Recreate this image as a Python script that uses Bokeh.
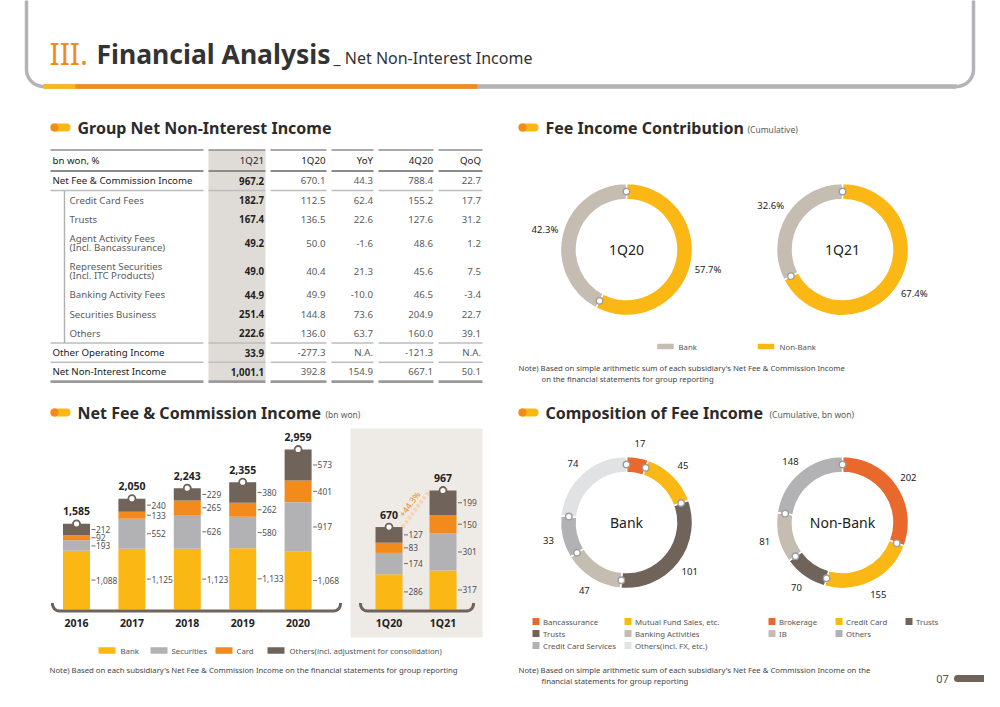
import math
import numpy as np
from bokeh.plotting import figure
from bokeh.models import Range1d
from bokeh.core.properties import value
from bokeh.embed import file_html
from bokeh.resources import INLINE

# ----------------------------- data -----------------------------
years = ["2016", "2017", "2018", "2019", "2020"]
annual_bank = [1088, 1125, 1123, 1133, 1068]
annual_securities = [193, 552, 626, 580, 917]
annual_card = [92, 133, 265, 262, 401]
annual_others = [212, 240, 229, 380, 573]

quarters = ["1Q20", "1Q21"]
quarter_bank = [286, 317]
quarter_securities = [174, 301]
quarter_card = [83, 150]
quarter_others = [127, 199]

bar_series = ["Bank", "Securities", "Card", "Others(incl. adjustment for consolidation)"]

contrib_periods = ["1Q20", "1Q21"]
contrib_bank = [42.3, 32.6]
contrib_nonbank = [57.7, 67.4]
contrib_series = ["Bank", "Non-Bank"]

bank_comp_labels = ["Bancassurance", "Mutual Fund Sales, etc.", "Trusts",
                    "Banking Activities", "Credit Card Services", "Others(incl. FX, etc.)"]
bank_comp_values = [17, 45, 101, 47, 33, 74]
nonbank_comp_labels = ["Brokerage", "Credit Card", "Trusts", "IB", "Others"]
nonbank_comp_values = [202, 155, 70, 81, 148]

table_header = ["bn won, %", "1Q21", "1Q20", "YoY", "4Q20", "QoQ"]
table_labels = [["Net Fee & Commission Income"], ["Credit Card Fees"], ["Trusts"],
                ["Agent Activity Fees", "(Incl. Bancassurance)"],
                ["Represent Securities", "(Incl. ITC Products)"],
                ["Banking Activity Fees"], ["Securities Business"], ["Others"],
                ["Other Operating Income"], ["Net Non-Interest Income"]]
table_level = [0, 1, 1, 1, 1, 1, 1, 1, 0, 0]
col_1q21 = [967.2, 182.7, 167.4, 49.2, 49.0, 44.9, 251.4, 222.6, 33.9, 1001.1]
col_1q20 = [670.1, 112.5, 136.5, 50.0, 40.4, 49.9, 144.8, 136.0, -277.3, 392.8]
col_yoy = [44.3, 62.4, 22.6, -1.6, 21.3, -10.0, 73.6, 63.7, None, 154.9]
col_4q20 = [788.4, 155.2, 127.6, 48.6, 45.6, 46.5, 204.9, 160.0, -121.3, 667.1]
col_qoq = [22.7, 17.7, 31.2, 1.2, 7.5, -3.4, 22.7, 39.1, None, 50.1]

# ----------------------------- style -----------------------------
YELLOW = "#fbb714"
ORANGE = "#f28a1c"
REDOR = "#e9692c"
DARK = "#6f635a"
GRAY = "#b2b2b4"
BEIGE = "#c6bdb2"
LIGHT = "#e1e2e4"
TXT = "#333333"
SUB = "#5a5a5a"
FONT = value("Noto Sans")

W, H = 984, 691
p = figure(width=W, height=H, x_range=Range1d(0, W), y_range=Range1d(0, H),
           output_backend="svg", toolbar_location=None, min_border=0,
           x_axis_location=None, y_axis_location=None)
p.grid.visible = False
p.outline_line_color = None
p.background_fill_color = "white"
p.border_fill_color = "white"


def Y(y):
    return H - y


def txt(x, y, s, size, color=TXT, bold=False, align="left", baseline="middle",
        angle=0.0, rng=None, flip=True):
    xs = x if isinstance(x, (list, tuple, np.ndarray)) else [x]
    ys = y if isinstance(y, (list, tuple, np.ndarray)) else [y]
    ss = s if isinstance(s, (list, tuple)) else [s]
    if flip:
        ys = [Y(v) for v in ys]
    kw = {}
    if rng:
        kw["y_range_name"] = rng
    p.text(x=list(xs), y=list(ys), text=list(ss), text_font=FONT,
           text_font_size=f"{size}px", text_color=color,
           text_font_style="bold" if bold else "normal",
           text_align=align, text_baseline=baseline, angle=angle, **kw)


# ----------------------------- header frame -----------------------------
r = 17
L, R, B = 26, 973, 86
pts_x, pts_y = [L], [Y(-20)]
for a in np.linspace(math.pi, 1.5 * math.pi, 12):
    pts_x.append(L + r + r * math.cos(a)); pts_y.append(Y(B - r) + r * math.sin(a))
for a in np.linspace(-0.5 * math.pi, 0, 12):
    pts_x.append(R - r + r * math.cos(a)); pts_y.append(Y(B - r) + r * math.sin(a))
pts_x.append(R); pts_y.append(Y(-20))
p.line(pts_x, pts_y, line_color="#b4b4b8", line_width=3.5)
p.line([L + r, R - r], [Y(B), Y(B)], line_color="#b4b4b8", line_width=4.5)
p.line([L + r, 75], [Y(B), Y(B)], line_color=YELLOW, line_width=4.5)
p.line([75, 477], [Y(B), Y(B)], line_color=ORANGE, line_width=4.5)

txt(49, 53, "III.", 30, color=ORANGE)
txt(96, 53, "Financial Analysis", 26.5, color="#333333", bold=True)
txt(333, 57.5, "_ Net Non-Interest Income", 16, color="#333333")


# ----------------------------- section headers -----------------------------
def section(x, y, title, sub, sub_x):
    p.line([x + 4, x + 16], [Y(y), Y(y)], line_color=YELLOW, line_width=8, line_cap="round")
    p.scatter([x + 4], [Y(y)], size=8, fill_color=ORANGE, line_color=None)
    txt(x + 27, y, title, 16, color="#2b2b2b", bold=True)
    if sub:
        txt(sub_x, y + 1.5, sub, 8.5, color=SUB)


section(50, 127, "Group Net Non-Interest Income", None, 0)
section(518, 127, "Fee Income Contribution", "(Cumulative)", 747)
section(50, 412, "Net Fee & Commission Income", "(bn won)", 325)
section(518, 412, "Composition of Fee Income", "(Cumulative, bn won)", 769)

# ----------------------------- table -----------------------------
label_seg = (50, 203)
col_seg = [(208, 265), (270, 326), (331, 373), (378, 433), (438, 482)]
col_right = [263.5, 325, 372.5, 432.5, 480.5]
t_top = 149.5
header_y = 160
row_h = [19.5, 19.3, 19.3, 28, 28, 19.3, 19.3, 19.3, 19.3, 19.3]
bounds = [170.5]
for h in row_h:
    bounds.append(bounds[-1] + h)
centers = [(bounds[i] + bounds[i + 1]) / 2 for i in range(len(row_h))]

p.quad(left=col_seg[0][0], right=col_seg[0][1], top=Y(t_top), bottom=Y(bounds[-1]),
       fill_color="#dfdcd7", line_color=None)


def rule(y, lw, color):
    segs = [label_seg] + col_seg
    p.segment(x0=[s[0] for s in segs], x1=[s[1] for s in segs],
              y0=[Y(y)] * len(segs), y1=[Y(y)] * len(segs), line_color=color, line_width=lw)


rule(t_top, 1.6, "#8c8c8c")
rule(bounds[0], 2.2, "#8c8c8c")
rule(bounds[1], 1.6, "#bdbdbd")
rule(bounds[8], 1.6, "#bdbdbd")
rule(bounds[9], 1.6, "#bdbdbd")
rule(bounds[10], 2.6, "#9a9a9a")
p.segment(x0=[64], x1=[64], y0=[Y(bounds[1])], y1=[Y(bounds[8])], line_color="#b0b0b0", line_width=1.4)

TS = 9.7
txt(52, header_y, table_header[0], TS, color="#222222")
txt(col_right, [header_y] * 5, table_header[1:], TS, color="#222222", align="right")


def fmt(v):
    return "N.A." if v is None else f"{v:,.1f}"


for i, lab in enumerate(table_labels):
    x0 = 52 if table_level[i] == 0 else 69
    color = "#222222" if table_level[i] == 0 else "#5c5c5c"
    if len(lab) == 1:
        txt(x0, centers[i], lab[0], TS, color=color)
    else:
        txt([x0, x0], [centers[i] - 4.8, centers[i] + 4.8], lab, TS, color=color)

cols = [col_1q21, col_1q20, col_yoy, col_4q20, col_qoq]
for j, col in enumerate(cols):
    txt([col_right[j]] * len(col), centers, [fmt(v) for v in col], TS,
        color="#222222" if j == 0 else "#5c5c5c", bold=(j == 0), align="right")

# ----------------------------- bar charts -----------------------------
base = 609  # baseline (reference pixel row)
k_annual = 160 / 2959.0   # px per bn won
k_quarter = 119 / 967.0
frame_bottom, frame_top = 0, H
yb = Y(base)
p.extra_y_ranges = {
    "annual": Range1d(-(yb - frame_bottom) / k_annual, (frame_top - yb) / k_annual),
    "quarter": Range1d(-(yb - frame_bottom) / k_quarter, (frame_top - yb) / k_quarter),
}

series_colors = [YELLOW, GRAY, ORANGE, DARK]

# quarter background panel
p.quad(left=350, right=482, top=Y(428), bottom=Y(637), fill_color="#eeeae5", line_color=None)


def bracket(x0, x1, y):
    rr = 7
    bx, by = [x0], [Y(y - 8)]
    for a in np.linspace(math.pi, 1.5 * math.pi, 8):
        bx.append(x0 + rr + rr * math.cos(a)); by.append(Y(y - rr) + rr * math.sin(a))
    for a in np.linspace(-0.5 * math.pi, 0, 8):
        bx.append(x1 - rr + rr * math.cos(a)); by.append(Y(y - rr) + rr * math.sin(a))
    bx.append(x1); by.append(Y(y - 8))
    p.line(bx, by, line_color=DARK, line_width=3)


def draw_bars(xs, stacks, labels, rng, k, width=27):
    n = len(xs)
    bottoms = np.zeros(n)
    mids = []
    for s, vals in enumerate(stacks):
        vals = np.array(vals, dtype=float)
        p.vbar(x=xs, width=width, bottom=list(bottoms), top=list(bottoms + vals),
               fill_color=series_colors[s], line_color=None, y_range_name=rng)
        mids.append(bottoms + vals / 2)
        bottoms = bottoms + vals
    totals = bottoms
    gap = 8.2 / k
    lx, ly, lt, tx0, tx1 = [], [], [], [], []
    for i in range(n):
        prev = None
        for s in reversed(range(len(stacks))):
            yv = mids[s][i]
            if prev is not None:
                yv = min(yv, prev - gap)
            prev = yv
            right = xs[i] + width / 2
            tx0.append(right + 1.5); tx1.append(right + 5.5); ly.append(yv)
            lx.append(right + 6)
            lt.append(f"{int(stacks[s][i]):,}")
    p.segment(x0=tx0, x1=tx1, y0=ly, y1=ly, line_color="#6a6a6a", line_width=1, y_range_name=rng)
    txt(lx, ly, lt, 8.4, color="#505050", rng=rng, flip=False)
    # totals
    txt(list(xs), list(totals + 12.5 / k), [f"{int(t):,}" for t in totals], 10.5,
        color="#222222", bold=True, align="center", rng=rng, flip=False)
    p.scatter(x=list(xs), y=list(totals), size=7, fill_color="white", line_color=DARK,
              line_width=1.8, y_range_name=rng)
    txt(list(xs), [622] * n, labels, 10.5, color="#222222", bold=True, align="center")
    return totals


ax = [76 + 55.4 * i for i in range(len(years))]
draw_bars(ax, [annual_bank, annual_securities, annual_card, annual_others], years, "annual", k_annual)
bracket(52, 340, 610.5)

qx = [388.5 + 54 * i for i in range(len(quarters))]
qt = np.array(quarter_bank) + np.array(quarter_securities) + np.array(quarter_card) + np.array(quarter_others)
# growth indicator
gx0, gx1 = qx[0] + 13.5, qx[1] - 13.5
p.line([gx0, gx1], [qt[0], qt[1]], line_color="#f7d3b3", line_width=4, line_dash="3 2",
       y_range_name="quarter")
dxp = gx1 - gx0
dyp = (qt[1] - qt[0]) * k_quarter
ang = math.atan2(dyp, dxp)
off = 8
mx = (gx0 + gx1) / 2 - off * math.sin(ang)
my = (qt[0] + qt[1]) / 2 + off * math.cos(ang) / k_quarter
growth = f"+{(qt[1] / qt[0] - 1) * 100:.1f}%"
txt([mx], [my], [growth], 8.5, color=ORANGE, align="center", angle=ang, rng="quarter", flip=False)
draw_bars(qx, [quarter_bank, quarter_securities, quarter_card, quarter_others], quarters,
          "quarter", k_quarter)
bracket(360, 473, 610.5)

# bar legend
leg_sw = [98, 150, 215, 267]
leg_tx = [120, 171, 236, 289]
p.rect(x=[s + 8.5 for s in leg_sw], y=[Y(650)] * 4, width=17, height=6.5,
       fill_color=series_colors, line_color=None)
txt(leg_tx, [650] * 4, bar_series, 7.8, color="#555555")
NS = 7.75
txt(49, 669.5, "Note) Based on each subsidiary's Net Fee & Commission Income on the financial statements for group reporting",
    NS, color="#444444")


# ----------------------------- donuts -----------------------------
def donut(cx, cy, values, colors, r_in, r_out, label_r, labels, size):
    vals = np.array(values, dtype=float)
    total = vals.sum()
    cum = np.concatenate([[0], np.cumsum(vals)])
    starts = math.pi / 2 - 2 * math.pi * cum[:-1] / total
    ends = math.pi / 2 - 2 * math.pi * cum[1:] / total
    p.annular_wedge(x=cx, y=Y(cy), inner_radius=r_in, outer_radius=r_out,
                    start_angle=list(starts), end_angle=list(ends), direction="clock",
                    fill_color=colors, line_color="white", line_width=1.5)
    rm = (r_in + r_out) / 2
    p.scatter(x=list(cx + rm * np.cos(starts)), y=list(Y(cy) + rm * np.sin(starts)),
              size=6.5, fill_color="white", line_color="#9d9d9d", line_width=1.4)
    mids = (starts + ends) / 2
    txt(list(cx + label_r * np.cos(mids)), list(Y(cy) + label_r * np.sin(mids)), labels, size,
        color="#222222", align="center", flip=False)


# contribution donuts (Non-Bank first, clockwise from top)
for i, per in enumerate(contrib_periods):
    cx = 626 + 216 * i
    vals = [contrib_nonbank[i], contrib_bank[i]]
    donut(cx, 249, vals, [YELLOW, BEIGE], 50, 66, 84, [f"{v}%" for v in vals], 9.5)
    txt(cx, 249, per, 14, color="#222222", align="center")

p.rect(x=[665, 765.5], y=[Y(346)] * 2, width=16.5, height=5.5, fill_color=[BEIGE, YELLOW], line_color=None)
txt([678, 779], [346, 346], contrib_series, 7.8, color="#555555")
txt(518, 367, "Note) Based on simple arithmetic sum of each subsidiary's Net Fee & Commission Income",
    NS, color="#444444")
txt(541, 378, "on the financial statements for group reporting", NS, color="#444444")

# composition donuts
bank_colors = [REDOR, YELLOW, DARK, BEIGE, GRAY, LIGHT]
nonbank_colors = [REDOR, YELLOW, DARK, BEIGE, GRAY]
donut(626, 522, bank_comp_values, bank_colors, 50, 66, 80, [str(v) for v in bank_comp_values], 9.5)
txt(626, 522, "Bank", 14, color="#222222", align="center")
donut(842, 522, nonbank_comp_values, nonbank_colors, 50, 66, 80, [str(v) for v in nonbank_comp_values], 9.5)
txt(842, 522, "Non-Bank", 14, color="#222222", align="center")

# composition legends
bank_leg_pos = [(532, 621), (624, 621), (532, 633), (624, 633), (532, 645), (624, 645)]
p.rect(x=[q[0] + 3.5 for q in bank_leg_pos], y=[Y(q[1]) for q in bank_leg_pos], width=7, height=7,
       fill_color=bank_colors, line_color=None)
txt([q[0] + 10.5 for q in bank_leg_pos], [q[1] for q in bank_leg_pos], bank_comp_labels, 7.8, color="#555555")

nb_leg_pos = [(768, 621), (835, 621), (905, 621), (768, 633), (835, 633)]
p.rect(x=[q[0] + 3.5 for q in nb_leg_pos], y=[Y(q[1]) for q in nb_leg_pos], width=7, height=7,
       fill_color=nonbank_colors, line_color=None)
txt([q[0] + 10.5 for q in nb_leg_pos], [q[1] for q in nb_leg_pos], nonbank_comp_labels, 7.8, color="#555555")

txt(518, 669, "Note) Based on simple arithmetic sum of each subsidiary's Net Fee & Commission Income on the",
    NS, color="#444444")
txt(541, 680, "financial statements for group reporting", NS, color="#444444")

# page number
txt(942, 678, "07", 11, color="#555555", align="center")
p.line([957, 1010], [Y(678), Y(678)], line_color=DARK, line_width=7, line_cap="round")

open("out.html", "w").write(file_html(p, INLINE))
